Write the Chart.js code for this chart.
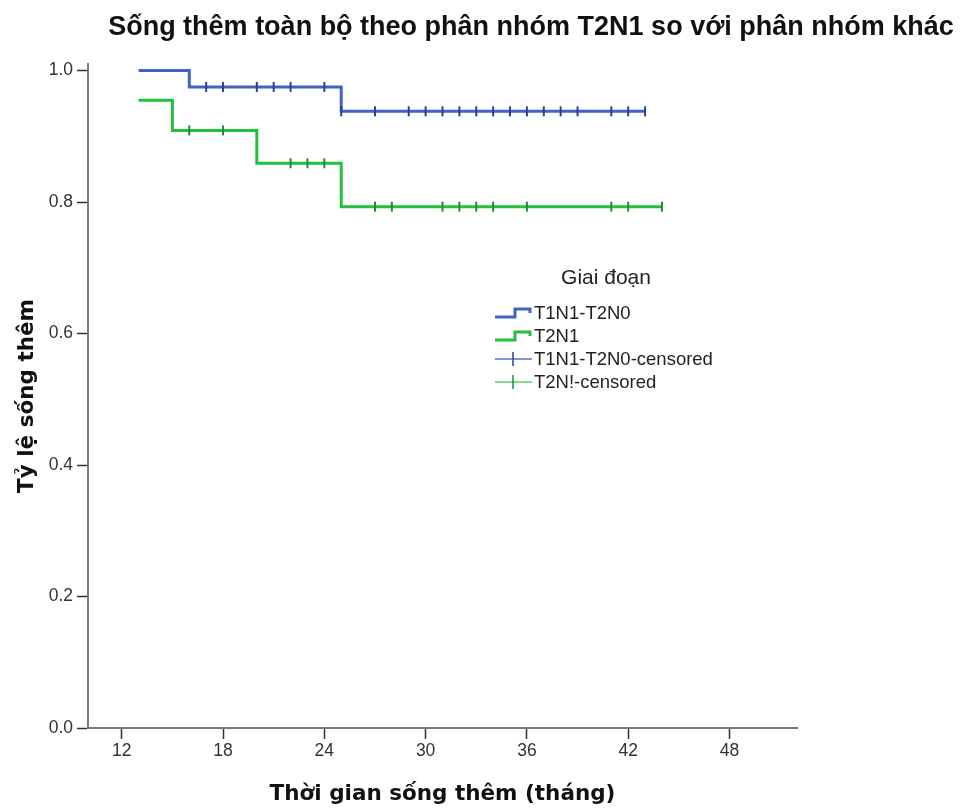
<!DOCTYPE html>
<html>
<head>
<meta charset="utf-8">
<script src="https://cdn.jsdelivr.net/npm/chart.js@4.4.1/dist/chart.umd.min.js"></script>
<style>
  html, body { margin: 0; padding: 0; background: #ffffff; }
  #wrap { width: 965px; height: 810px; position: relative; }
</style>
</head>
<body>
<div id="wrap"><canvas id="km" width="965" height="810"></canvas></div>
<script>
// Kaplan–Meier overall survival by stage subgroup (months)
const chartTitle = 'Sống thêm toàn bộ theo phân nhóm T2N1 so với phân nhóm khác';
const xTitle = 'Thời gian sống thêm (tháng)';
const yTitle = 'Tỷ lệ sống thêm';
const legendTitle = 'Giai đoạn';

const xTicks = [12, 18, 24, 30, 36, 42, 48];
const yTicks = [0.0, 0.2, 0.4, 0.6, 0.8, 1.0];

// T1N1-T2N0: step times and survival after each step
const groupATimes = [13, 16, 25, 43];
const groupASurv  = [1.000, 0.975, 0.938, 0.938];
const groupACensored = [17, 18, 20, 21, 22, 24, 25, 27, 29, 30, 31, 32, 33, 34, 35, 36, 37, 38, 39, 41, 42, 43];

// T2N1
const groupBTimes = [13, 15, 20, 25, 44];
const groupBSurv  = [0.955, 0.909, 0.859, 0.793, 0.793];
const groupBCensored = [16, 18, 22, 23, 24, 27, 28, 31, 32, 33, 34, 36, 41, 42, 44];

const legendLabels = ['T1N1-T2N0', 'T2N1', 'T1N1-T2N0-censored', 'T2N!-censored'];

const blue = '#4262c8', blueDark = '#2b3f98', blueLight = '#8193d9';
const green = '#22c03c', greenDark = '#178f2b', greenLight = '#7fd88c';

// survival level of a step curve at time t
function levelAt(times, surv, t) {
  let v = surv[0];
  for (let i = 0; i < times.length; i++) if (times[i] <= t) v = surv[i];
  return v;
}
const stepPoints = (times, surv) => times.map((t, i) => ({ x: t, y: surv[i] }));
const censorPoints = (ct, times, surv) => ct.map(t => ({ x: t, y: levelAt(times, surv, t) }));

const sansBold = (s) => `bold ${s}px "Liberation Sans", Arial, sans-serif`;
const wideBold = (s) => `bold ${s}px "DejaVu Sans", Verdana, sans-serif`;
const sans = (s) => `${s}px "Liberation Sans", Arial, sans-serif`;

const decorations = {
  id: 'decorations',
  afterDraw(chart) {
    const ctx = chart.ctx, a = chart.chartArea;
    ctx.save();
    ctx.fillStyle = '#111';
    ctx.textBaseline = 'middle';
    // chart title
    ctx.font = sansBold(27);
    ctx.textAlign = 'center';
    ctx.fillText(chartTitle, 531, 28);
    // axis titles
    ctx.font = wideBold(21.5);
    ctx.fillText(xTitle, (a.left + a.right) / 2, 794);
    ctx.save();
    ctx.translate(27, (a.top + a.bottom) / 2);
    ctx.rotate(-Math.PI / 2);
    ctx.fillText(yTitle, 0, 0);
    ctx.restore();

    // legend
    ctx.fillStyle = '#222';
    ctx.font = sans(21);
    ctx.textAlign = 'center';
    ctx.fillText(legendTitle, 606, 278);
    ctx.textAlign = 'left';
    ctx.font = sans(18.5);
    const rows = [313, 336, 359, 382];
    const x0 = 495, x1 = 532;
    // survival line icons (step shape)
    [[blue, rows[0]], [green, rows[1]]].forEach(([c, y]) => {
      ctx.strokeStyle = c; ctx.lineWidth = 3; ctx.lineJoin = 'miter';
      ctx.beginPath();
      ctx.moveTo(x0, y + 4); ctx.lineTo(x0 + 20, y + 4);
      ctx.lineTo(x0 + 20, y - 4); ctx.lineTo(x1 - 2, y - 4); ctx.lineTo(x1 - 2, y);
      ctx.stroke();
    });
    // censor icons
    [[blueLight, blueDark, rows[2]], [greenLight, greenDark, rows[3]]].forEach(([cl, cd, y]) => {
      ctx.strokeStyle = cl; ctx.lineWidth = 2;
      ctx.beginPath(); ctx.moveTo(x0, y); ctx.lineTo(x1, y); ctx.stroke();
      ctx.strokeStyle = cd; ctx.lineWidth = 1.5;
      ctx.beginPath(); ctx.moveTo(x0 + 18, y - 7); ctx.lineTo(x0 + 18, y + 7); ctx.stroke();
    });
    legendLabels.forEach((t, i) => ctx.fillText(t, 534, rows[i] + 1));
    ctx.restore();
  }
};

const tickFont = { family: '"Liberation Sans", Arial, sans-serif', size: 17.5 };

new Chart(document.getElementById('km'), {
  type: 'line',
  data: {
    datasets: [
      { label: legendLabels[2], data: censorPoints(groupACensored, groupATimes, groupASurv),
        showLine: false, pointStyle: 'line', rotation: 90, pointRadius: 5, pointBorderWidth: 2,
        borderColor: blueDark, backgroundColor: blueDark, order: 0 },
      { label: legendLabels[3], data: censorPoints(groupBCensored, groupBTimes, groupBSurv),
        showLine: false, pointStyle: 'line', rotation: 90, pointRadius: 5, pointBorderWidth: 2,
        borderColor: greenDark, backgroundColor: greenDark, order: 0 },
      { label: legendLabels[0], data: stepPoints(groupATimes, groupASurv), stepped: true,
        borderColor: blue, borderWidth: 3, pointRadius: 0, fill: false, order: 1 },
      { label: legendLabels[1], data: stepPoints(groupBTimes, groupBSurv), stepped: true,
        borderColor: green, borderWidth: 3, pointRadius: 0, fill: false, order: 1 }
    ]
  },
  options: {
    responsive: false,
    animation: false,
    events: [],
    layout: { padding: { top: 64, right: 168, left: 0, bottom: 0 } },
    plugins: { legend: { display: false }, title: { display: false }, tooltip: { enabled: false } },
    scales: {
      x: {
        type: 'linear', min: 10, max: 52,
        afterFit(s) { s.height = 82; },
        afterBuildTicks(s) { s.ticks = xTicks.map(v => ({ value: v })); },
        border: { display: true, color: '#7a7a7a', width: 2 },
        grid: { drawOnChartArea: false, drawTicks: true, tickLength: 11, tickColor: '#333', tickWidth: 1.5 },
        ticks: { color: '#333', font: tickFont, padding: 2, maxRotation: 0, autoSkip: false }
      },
      y: {
        type: 'linear', min: 0, max: 1.01,
        afterFit(s) { s.width = 88; },
        afterBuildTicks(s) { s.ticks = yTicks.map(v => ({ value: v })); },
        border: { display: true, color: '#7a7a7a', width: 2 },
        grid: { drawOnChartArea: false, drawTicks: true, tickLength: 11, tickColor: '#333', tickWidth: 1.5 },
        ticks: { color: '#333', font: tickFont, padding: 4, callback: v => v.toFixed(1) }
      }
    }
  },
  plugins: [decorations]
});
</script>
</body>
</html>
